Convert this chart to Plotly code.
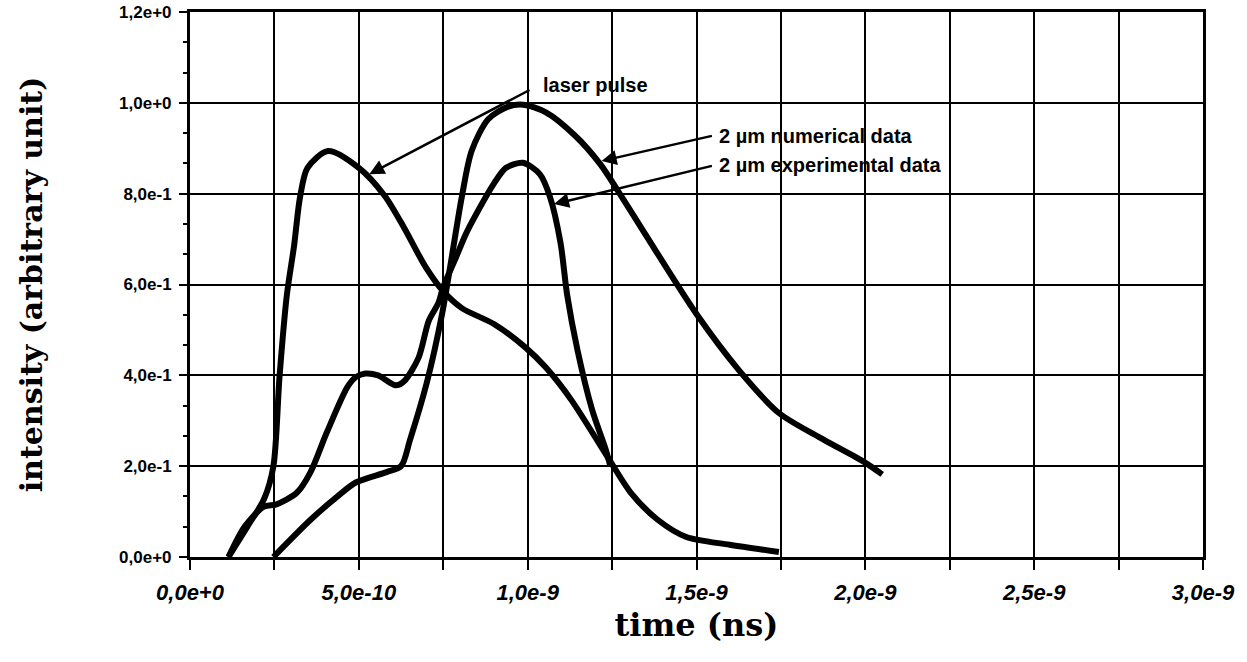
import plotly.graph_objects as go

# time in units of 1e-10 s
laser_t = [1.14, 1.7, 2.19, 2.47, 2.65, 2.87, 3.08, 3.26, 3.48, 4.09, 5.0, 5.77, 6.34, 6.99, 7.5,
           8.05, 9.0, 9.94, 10.54, 11.29, 12.41, 13.05, 13.85, 14.7, 15.98, 17.44]
laser_i = [0, 0.067, 0.127, 0.2, 0.396, 0.578, 0.684, 0.793, 0.857, 0.894, 0.857, 0.795, 0.725, 0.637, 0.585,
           0.548, 0.513, 0.461, 0.417, 0.346, 0.215, 0.142, 0.082, 0.044, 0.027, 0.011]

exp_t = [1.14, 1.62, 2.19, 2.56, 3.17, 3.57, 4.05, 4.66, 4.91, 5.19, 5.57, 6.09, 6.34, 6.77, 7.07, 7.36, 7.5,
         7.84, 8.2, 8.99, 9.36, 9.86, 10.36, 10.66, 10.97, 11.17, 11.48, 11.91, 12.31, 12.45]
exp_i = [0, 0.067, 0.111, 0.116, 0.142, 0.187, 0.274, 0.374, 0.396, 0.404, 0.4, 0.378, 0.387, 0.439, 0.52, 0.56, 0.595,
         0.653, 0.716, 0.821, 0.857, 0.868, 0.843, 0.793, 0.693, 0.577, 0.454, 0.324, 0.237, 0.2]

num_t = [2.47, 3.57, 4.36, 4.91, 5.82, 6.25, 6.52, 7.01, 7.47, 8.05, 8.34, 8.83, 9.4, 9.86, 10.54, 11.4,
         12.16, 12.65, 13.44, 15.0, 16.26, 17.44, 18.75, 19.97, 20.5]
num_i = [0, 0.082, 0.133, 0.164, 0.187, 0.2, 0.259, 0.383, 0.537, 0.793, 0.894, 0.964, 0.991, 0.996, 0.979, 0.928,
         0.864, 0.809, 0.716, 0.535, 0.411, 0.317, 0.259, 0.209, 0.182]

x_tickvals = [i * 2.5e-10 for i in range(13)]
x_ticktext = ["0,0e+0", "", "5,0e-10", "", "1,0e-9", "", "1,5e-9", "", "2,0e-9", "", "2,5e-9", "", "3,0e-9"]
y_tickvals = [0, 0.2, 0.4, 0.6, 0.8, 1.0, 1.2]
y_ticktext = ["0,0e+0", "2,0e-1", "4,0e-1", "6,0e-1", "8,0e-1", "1,0e+0", "1,2e+0"]

labels = ["laser pulse", "2 µm numerical data", "2 µm experimental data"]

fig = go.Figure()
for t, i, name in [(laser_t, laser_i, labels[0]), (num_t, num_i, labels[1]), (exp_t, exp_i, labels[2])]:
    fig.add_trace(go.Scatter(x=[v * 1e-10 for v in t], y=i, mode="lines", name=name,
                             line=dict(color="black", width=6, shape="spline", smoothing=0.8)))

# arrows (tip, tail) in data coords
arrows = [((5.31e-10, 0.843), (10.1e-10, 1.03)),
          ((12.19e-10, 0.872), (15.5e-10, 0.928)),
          ((10.78e-10, 0.777), (15.5e-10, 0.862))]
for (tx, ty), (sx, sy) in arrows:
    fig.add_annotation(x=tx, y=ty, ax=sx, ay=sy, axref="x", ayref="y", xref="x", yref="y",
                       text="", showarrow=True, arrowhead=2, arrowsize=1.2, arrowwidth=2.5, arrowcolor="black")

text_pos = [(10.4e-10, 1.04), (15.6e-10, 0.928), (15.6e-10, 0.864)]
for (px, py), txt in zip(text_pos, labels):
    fig.add_annotation(x=px, y=py, xref="x", yref="y", text=txt, showarrow=False,
                       xanchor="left", yanchor="middle",
                       font=dict(family="Liberation Sans, Arial", size=20, color="black", weight="bold"))

fig.update_layout(
    width=1247, height=662,
    margin=dict(l=190, r=44, t=12, b=105),
    paper_bgcolor="white", plot_bgcolor="white",
    showlegend=False,
    font=dict(family="Liberation Sans, Arial", color="black"),
)
fig.update_xaxes(range=[0, 3e-9], tickvals=x_tickvals, ticktext=x_ticktext, automargin=False,
                 showgrid=True, gridcolor="black", gridwidth=2,
                 showline=True, linecolor="black", linewidth=3, mirror=True,
                 ticks="outside", ticklen=10, tickwidth=2, tickcolor="black", ticklabelstandoff=4,
                 tickfont=dict(family="Liberation Sans, Arial", size=22, color="black", weight="bold", style="italic"),
                 zeroline=False,
                 title=dict(text="time (ns)", standoff=10,
                            font=dict(family="DejaVu Serif", size=32, color="black", weight="bold")))
fig.update_yaxes(range=[0, 1.2], tickvals=y_tickvals, ticktext=y_ticktext, automargin=False,
                 showgrid=True, gridcolor="black", gridwidth=2,
                 showline=True, linecolor="black", linewidth=3, mirror=True,
                 ticks="outside", ticklen=8, tickwidth=2, tickcolor="black", ticklabelstandoff=4,
                 minor=dict(tickvals=[k * 0.2 / 3 for k in range(19)], ticks="outside", ticklen=4,
                            tickwidth=2, tickcolor="black", showgrid=False),
                 tickfont=dict(family="Liberation Sans, Arial", size=17, color="black", weight="bold"),
                 zeroline=False,
                 title=dict(text="intensity (arbitrary unit)", standoff=68,
                            font=dict(family="DejaVu Serif", size=30, color="black", weight="bold")))

fig.write_html("out.html")
